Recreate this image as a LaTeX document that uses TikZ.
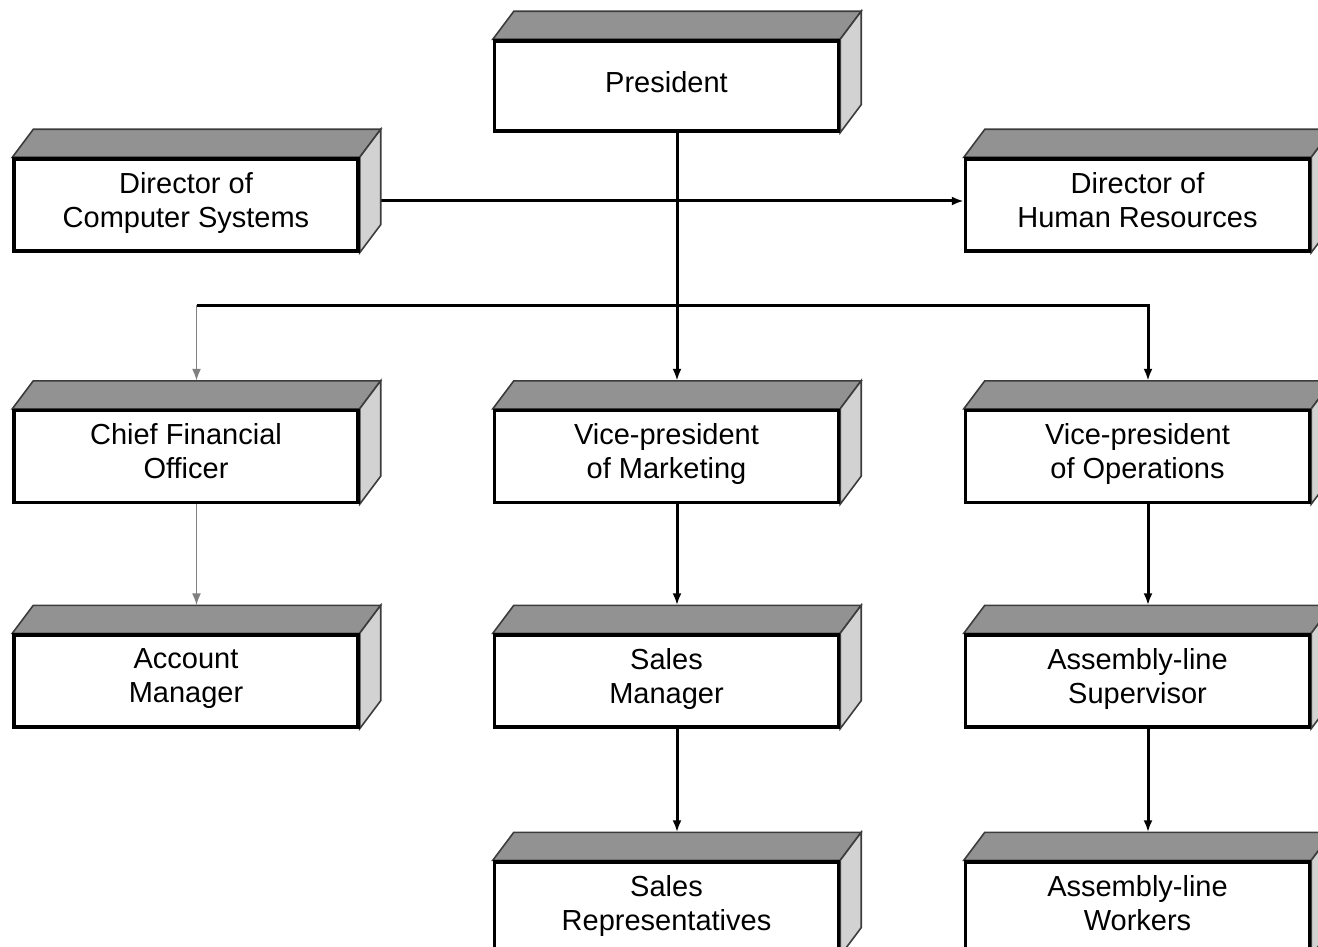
\documentclass[tikz,border=0pt]{standalone}
\usepackage{fontspec}
\setmainfont{Liberation Sans}
\usetikzlibrary{arrows.meta, calc, backgrounds}
\definecolor{topface}{RGB}{146,146,146}
\definecolor{sideface}{RGB}{210,210,210}
\definecolor{edge}{RGB}{60,60,60}

\begin{document}
\begin{tikzpicture}[x=1pt, y=-1pt,
    unit/.style={rectangle, draw=black, line width=3.4pt, fill=white,
                 minimum width=344pt, minimum height=92pt, inner sep=0pt,
                 execute at begin node=\strut, execute at end node=\strut,
                 align=center, font=\fontsize{29}{34}\selectfont},
    link/.style={line width=3pt, -{Latex[length=12pt,width=9pt]}},
    faint/.style={line width=1.8pt, draw=gray, -{Latex[length=12pt,width=9pt]}},
    topf/.style={fill=topface, draw=edge, line width=1.6pt},
    sidef/.style={fill=sideface, draw=edge, line width=1.6pt}]

    \useasboundingbox (0,0) rectangle (1318,947);
    \clip (0,0) rectangle (1318,947);

    % Top
    \node[unit, minimum height=90pt] (pres) at (666.5, 86) {President};
    \node[unit] (dcs) at (186, 205) {Director of\\Computer Systems};
    \node[unit] (dhr) at (1137.5, 205) {Director of\\Human Resources};

    % Vice-presidents
    \node[unit] (cfo) at (186, 456.5) {Chief Financial\\Officer};
    \node[unit] (vpm) at (666.5, 456.5) {Vice-president\\of Marketing};
    \node[unit] (vpo) at (1137.5, 456.5) {Vice-president\\of Operations};

    % Managers
    \node[unit] (acm) at (186, 681) {Account\\Manager};
    \node[unit] (slm) at (666.5, 681) {Sales\\Manager};
    \node[unit] (als) at (1137.5, 681) {Assembly-line\\Supervisor};

    % Staff
    \node[unit] (slr) at (666.5, 908) {Sales\\Representatives};
    \node[unit] (alw) at (1137.5, 908) {Assembly-line\\Workers};

    \foreach \n in {pres,dcs,dhr,cfo,vpm,vpo,acm,slm,als,slr,alw}
        \coordinate (\n-top) at ($(\n.north)+(10.5,-28)$);
    \coordinate (bar) at (0, 305);

    \begin{scope}[on background layer]
        % Connectors
        \draw[link] ([yshift=4pt]dcs.east) -- ([yshift=4pt]dhr.west);
        \draw[link] (pres.south -| vpm-top) -- (vpm-top);
        \draw[line width=3pt] (bar -| vpm-top) -- (bar -| cfo-top);
        \draw[faint] (bar -| cfo-top) -- (cfo-top);
        \draw[link] (bar -| vpm-top) -| (vpo-top);
        \draw[faint] (cfo.south -| cfo-top) -- (acm-top);
        \draw[link] (vpm.south -| vpm-top) -- (slm-top);
        \draw[link] (vpo.south -| vpo-top) -- (als-top);
        \draw[link] (slm.south -| slm-top) -- (slr-top);
        \draw[link] (als.south -| als-top) -- (alw-top);

        % Box faces
        \foreach \n in {pres,dcs,dhr,cfo,vpm,vpo,acm,slm,als,slr,alw} {
            \draw[topf] (\n.north west) -- ++(21,-28) -- ($(\n.north east)+(21,-28)$)
                -- (\n.north east) -- cycle;
            \draw[sidef] (\n.north east) -- ++(21,-28) -- ($(\n.south east)+(21,-28)$)
                -- (\n.south east) -- cycle;
        }
    \end{scope}
\end{tikzpicture}
\end{document}
